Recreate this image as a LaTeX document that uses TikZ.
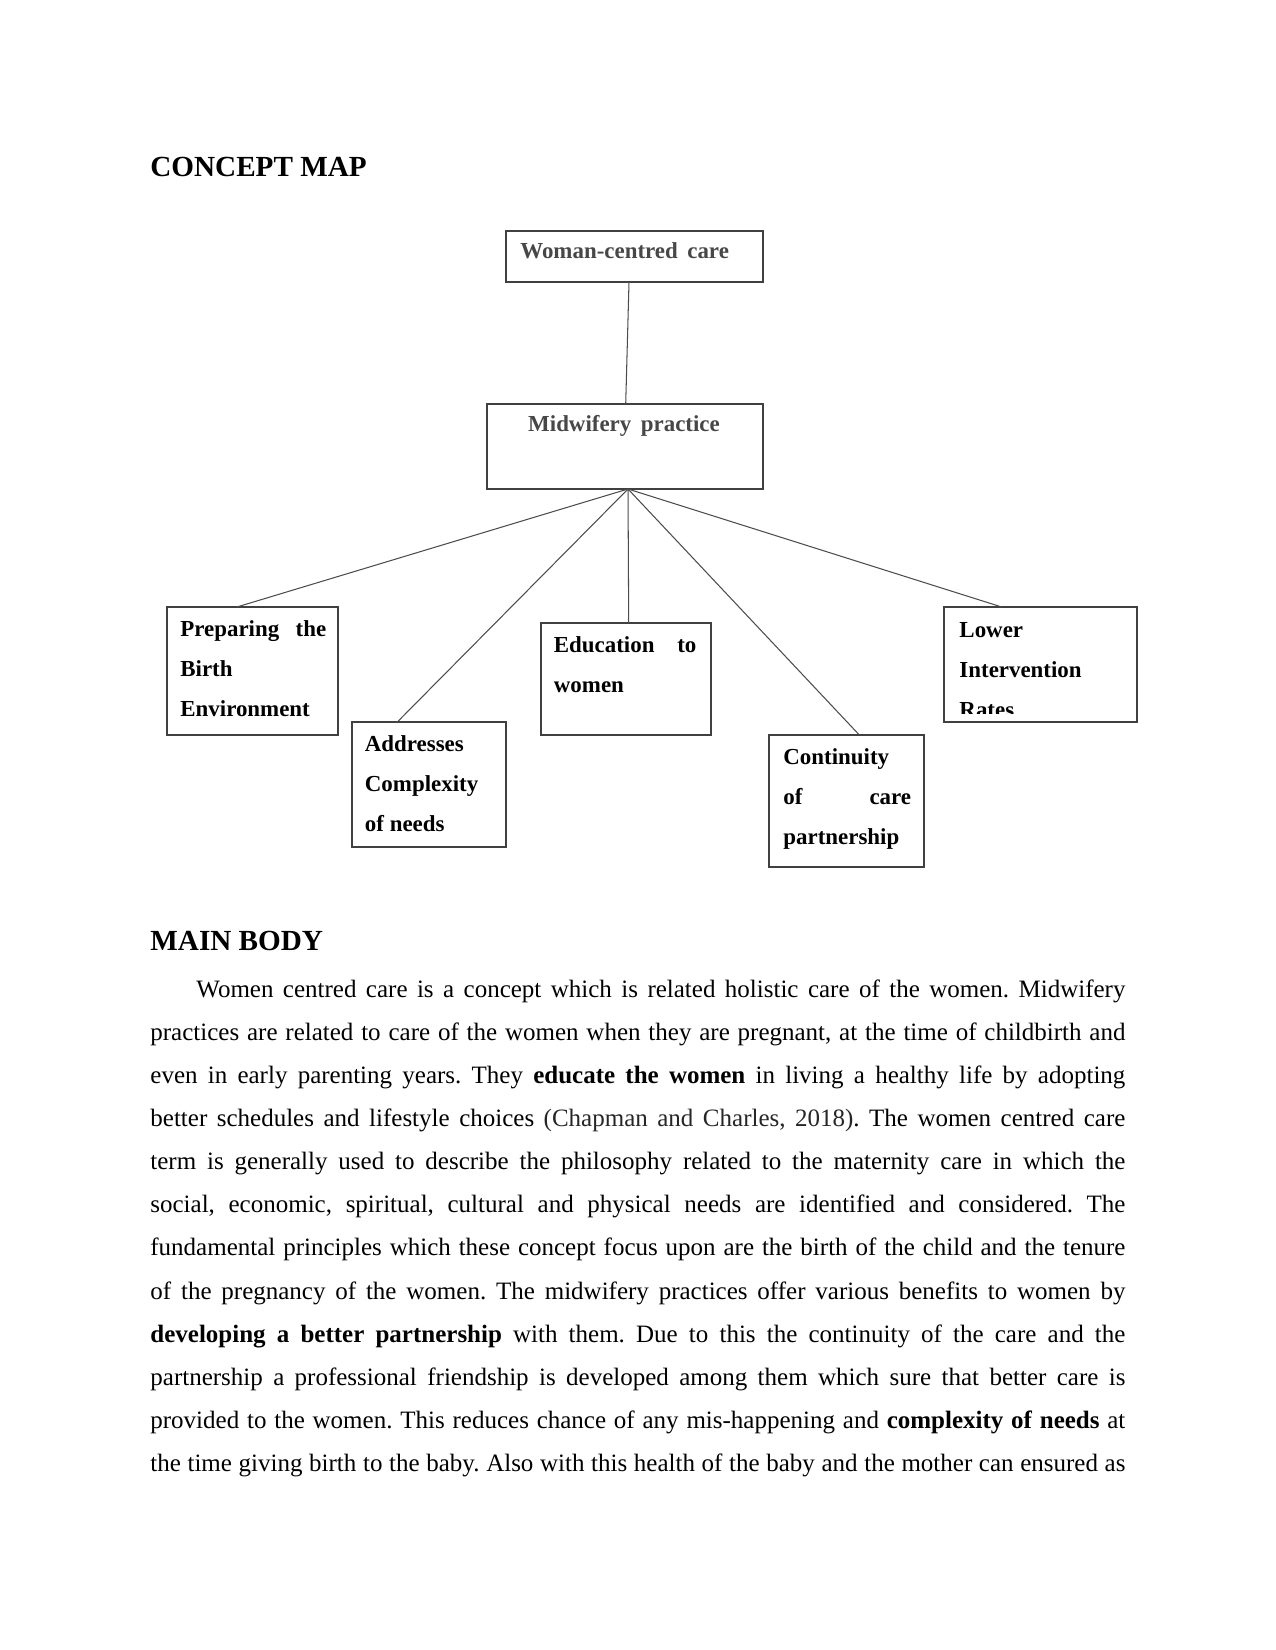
\documentclass[tikz,border=0pt]{standalone}
\usepackage{fontspec}
\setmainfont{Liberation Serif}
\usepackage{xcolor}
\usepackage{tikz}
\usetikzlibrary{positioning,calc}
\definecolor{citegray}{gray}{0.15}
\newcommand{\boxline}[1]{\hbox{#1}}
\begin{document}
\begin{tikzpicture}[x=0.48pt,y=-0.48pt,
  cbox/.style={draw=black!75,line width=0.6pt,inner sep=0pt,outer sep=0pt,minimum width=#1},
  link/.style={draw=black!70,line width=0.5pt},
  ctext/.style={anchor=base west,inner sep=0pt,font=\bfseries\fontsize{11}{19.2}\selectfont},
  ttext/.style={anchor=base west,inner sep=0pt,text=black!72,font=\bfseries\fontsize{11}{13}\selectfont},
  head/.style={anchor=base west,inner sep=0pt,font=\bfseries\fontsize{14}{16}\selectfont},
  bodyline/.style={anchor=base west,inner sep=0pt,font=\fontsize{12}{14}\selectfont\frenchspacing}]
\useasboundingbox[fill=white] (0,0) rectangle (1275,1650);
\node[head] (h1) at (150,177) {CONCEPT MAP};
\node[cbox=123.4pt,minimum height=24.5pt] (wcc) at (634.5,256.5) {};
\node[cbox=132.5pt,minimum height=40.8pt] (mp)  at (625,446.5) {};
\node[cbox=82.1pt,minimum height=61.4pt]  (pbe) at (252.5,671) {};
\node[cbox=73.9pt,minimum height=60pt]    (acn) at (429,784.5) {};
\node[cbox=81.6pt,minimum height=53.8pt]  (etw) at (626,679) {};
\node[cbox=74.4pt,minimum height=63.4pt]  (ccp) at (846.5,801) {};
\node[cbox=92.6pt,minimum height=55.2pt]  (lir) at (1040.5,664.5) {};
\node[ttext] (wcc-t) at ([shift={(14,28)}]wcc.north west) {Woman-centred\, care};
\node[ttext,anchor=base] (mp-t) at ([shift={(-1,28)}]mp.north) {Midwifery\, practice};
\node[ctext] (pbe-t) at ([shift={(13,29.4)}]pbe.north west) {\vtop{\boxline{\makebox[70pt][s]{Preparing the}}\boxline{Birth}\boxline{Environment}}};
\node[ctext] (acn-t) at ([shift={(12.5,29.4)}]acn.north west) {\vtop{\boxline{Addresses}\boxline{Complexity}\boxline{of needs}}};
\node[ctext] (etw-t) at ([shift={(12.5,29.6)}]etw.north west) {\vtop{\boxline{\makebox[68.4pt][s]{Education to}}\boxline{women}}};
\node[ctext] (ccp-t) at ([shift={(14,30)}]ccp.north west) {\vtop{\boxline{Continuity}\boxline{\makebox[61.3pt][s]{of care}}\boxline{partnership}}};
\begin{scope}
\clip ([shift={(1,1)}]lir.north west) rectangle ([shift={(-1,-9)}]lir.south east);
\node[ctext] (lir-t) at ([shift={(15,30.4)}]lir.north west) {\vtop{\boxline{Lower}\boxline{Intervention}\boxline{Rates}}};
\end{scope}
\coordinate (hub) at ([shift={(3,0)}]mp.south);
\draw[link] ([shift={(-5.5,0)}]wcc.south) -- ([shift={(0.7,0)}]mp.north);
\draw[link] (hub) -- ([shift={(-15.8,0)}]pbe.north);
\draw[link] (hub) -- ([shift={(-31.7,0)}]acn.north);
\draw[link] (hub) -- ([shift={(2.7,0)}]etw.north);
\draw[link] (hub) -- ([shift={(12.8,0)}]ccp.north);
\draw[link] (hub) -- ([shift={(-38.8,0)}]lir.north);
\node[head] (h2) at (150,950) {MAIN BODY};
\node[bodyline] (l0) at (196,997.3) {\makebox[445.9pt][s]{Women centred care is a concept which is related holistic care of the women. Midwifery}};
\foreach \txt [count=\i] in {
  {practices are related to care of the women when they are pregnant, at the time of childbirth and},
  {even in early parenting years. They \textbf{educate the women} in living a healthy life by adopting},
  {better schedules and lifestyle choices \textcolor{citegray}{(Chapman and Charles, 2018)}. The women centred care},
  {term is generally used to describe the philosophy related to the maternity care in which the},
  {social, economic, spiritual, cultural and physical needs are identified and considered. The},
  {fundamental principles which these concept focus upon are the birth of the child and the tenure},
  {of the pregnancy of the women. The midwifery practices offer various benefits to women by},
  {\textbf{developing a better partnership} with them. Due to this the continuity of the care and the},
  {partnership a professional friendship is developed among them which sure that better care is},
  {provided to the women. This reduces chance of any mis-happening and \textbf{complexity of needs} at},
  {the time giving birth to the baby. Also with this health of the baby and the mother can ensured as}}
  \node[bodyline] (l\i) at (150,997.3+43.1*\i) {\makebox[468pt][s]{\txt}};
\end{tikzpicture}
\end{document}
